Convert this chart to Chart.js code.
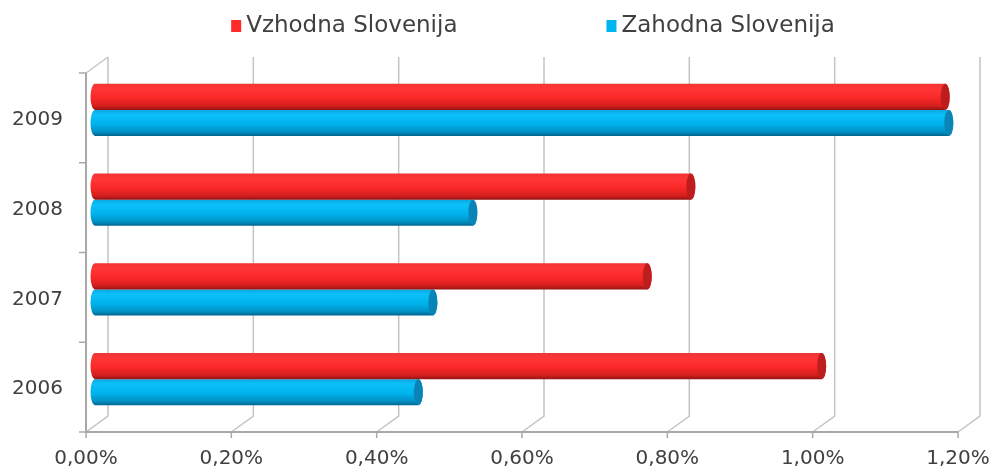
<!DOCTYPE html>
<html>
<head>
<meta charset="utf-8">
<title>Vzhodna in Zahodna Slovenija</title>
<script src="https://cdn.jsdelivr.net/npm/chart.js@4.4.1/dist/chart.umd.min.js"></script>
<style>
    html, body { margin: 0; padding: 0; background: #fff; }
    #wrap { width: 991px; height: 471px; }
</style>
</head>
<body>
<div id="wrap"><canvas id="myChart" width="991" height="471"></canvas></div>
<script>

/**
 * Data
 */

var years = ['2009', '2008', '2007', '2006'];
var vzhodna = [1.17, 0.82, 0.76, 1.00];
var zahodna = [1.175, 0.52, 0.465, 0.445];
var seriesNames = ['Vzhodna Slovenija', 'Zahodna Slovenija'];
var xTickValues = [0, 0.2, 0.4, 0.6, 0.8, 1.0, 1.2];
var xTickLabels = ['0,00%', '0,20%', '0,40%', '0,60%', '0,80%', '1,00%', '1,20%'];

/**
 * Look
 */

var FONT = '"DejaVu Sans", sans-serif';
var TEXT = '#404040';

// legend colours + cylinder shading (top -> bottom)
var seriesColors = ['#ff2a2a', '#00b4f0'];
var shades = [
    ['#f03434', '#ff3636', '#fa2828', '#d41f1f', '#961313'],
    ['#0aa8e0', '#0cc0fa', '#00b2ec', '#0090c4', '#00668e']
];
var capColors = ['#be1d1d', '#0a84b6'];

// 3d offsets
var depthX = 22, depthY = -16;   // back wall
var barDX = 9, barDY = -8;       // bars sit inside the box
var capRX = 4.5;

/**
 * 3D frame: back wall, floor, front axes
 */

var framePlugin = {
    id: 'frame3d',
    beforeDatasetsDraw: function (chart) {
        var c = chart.ctx;
        var area = chart.chartArea;
        var xs = chart.scales.x;
        var backTop = area.top + depthY;
        var backBottom = area.bottom + depthY;

        c.save();

        // back wall gridlines + floor diagonals
        c.strokeStyle = '#c4c4c4';
        c.lineWidth = 1.5;
        xTickValues.forEach(function (v) {
            var px = xs.getPixelForValue(v);
            c.beginPath();
            c.moveTo(px + depthX, backTop);
            c.lineTo(px + depthX, backBottom);
            c.lineTo(px, area.bottom);
            c.stroke();
        });

        // left wall top edge
        c.beginPath();
        c.moveTo(area.left, area.top);
        c.lineTo(area.left + depthX, backTop);
        c.stroke();

        // front axes
        c.strokeStyle = '#a8a8a8';
        c.lineWidth = 2;
        c.beginPath();
        c.moveTo(area.left, area.top);
        c.lineTo(area.left, area.bottom);
        c.lineTo(area.right, area.bottom);
        c.stroke();

        // tick marks
        c.lineWidth = 1.5;
        xTickValues.forEach(function (v) {
            var px = xs.getPixelForValue(v);
            c.beginPath();
            c.moveTo(px, area.bottom);
            c.lineTo(px, area.bottom + 6);
            c.stroke();
        });
        var band = (area.bottom - area.top) / years.length;
        for (var i = 0; i <= years.length; i++) {
            var py = area.top + band * i;
            c.beginPath();
            c.moveTo(area.left - 7, py);
            c.lineTo(area.left, py);
            c.stroke();
        }

        c.restore();
    }
};

/**
 * Cylinders drawn on the library's bar elements
 */

var cylinderPlugin = {
    id: 'cylinders',
    afterDatasetsDraw: function (chart) {
        var c = chart.ctx;
        c.save();
        [1, 0].forEach(function (di) {
            var meta = chart.getDatasetMeta(di);
            meta.data.forEach(function (el) {
                var x0 = el.base + barDX;
                var x1 = el.x + barDX;
                var yc = el.y + barDY;
                var r = el.height / 2;

                var g = c.createLinearGradient(0, yc - r, 0, yc + r);
                var s = shades[di];
                g.addColorStop(0, s[0]);
                g.addColorStop(0.2, s[1]);
                g.addColorStop(0.55, s[2]);
                g.addColorStop(0.85, s[3]);
                g.addColorStop(1, s[4]);

                c.beginPath();
                c.moveTo(x0, yc - r);
                c.lineTo(x1, yc - r);
                c.ellipse(x1, yc, capRX, r, 0, -Math.PI / 2, Math.PI / 2);
                c.lineTo(x0, yc + r);
                c.ellipse(x0, yc, capRX, r, 0, Math.PI / 2, Math.PI * 1.5);
                c.closePath();
                c.fillStyle = g;
                c.fill();

                // end cap
                c.beginPath();
                c.ellipse(x1, yc, capRX, r, 0, 0, Math.PI * 2);
                c.fillStyle = capColors[di];
                c.fill();
            });
        });
        c.restore();
    }
};

/**
 * Legend
 */

var legendPlugin = {
    id: 'topLegend',
    afterDraw: function (chart) {
        var c = chart.ctx;
        var area = chart.chartArea;
        var box = 10, gapText = 5, gapItems = 149;
        c.save();
        c.font = '23px ' + FONT;
        c.textBaseline = 'middle';
        var widths = seriesNames.map(function (n) { return c.measureText(n).width; });
        var total = box + gapText + widths[0] + gapItems + box + gapText + widths[1];
        var x = (area.left + area.right + depthX) / 2 - total / 2;
        var y = 26;
        seriesNames.forEach(function (name, i) {
            c.fillStyle = seriesColors[i];
            c.fillRect(x, y - 6, box, 12);
            c.fillStyle = TEXT;
            c.fillText(name, x + box + gapText, y);
            x += box + gapText + widths[i] + gapItems;
        });
        c.restore();
    }
};

/**
 * Chart.js
 */

var ctx = document.getElementById('myChart').getContext('2d');
var chart = new Chart(ctx, {
    type: 'bar',
    data: {
        labels: years,
        datasets: [{
            label: seriesNames[0],
            data: vzhodna,
            backgroundColor: 'rgba(0,0,0,0)'
        }, {
            label: seriesNames[1],
            data: zahodna,
            backgroundColor: 'rgba(0,0,0,0)'
        }]
    },
    options: {
        indexAxis: 'y',
        responsive: false,
        animation: false,
        categoryPercentage: 0.58,
        barPercentage: 1,
        layout: {
            padding: {top: 73, right: 0, bottom: 0, left: 0}
        },
        plugins: {
            legend: {display: false},
            tooltip: {enabled: false}
        },
        scales: {
            x: {
                min: 0,
                max: 1.2,
                grid: {display: false, drawTicks: false},
                border: {display: false},
                afterBuildTicks: function (scale) {
                    scale.ticks = xTickValues.map(function (v) { return {value: v}; });
                },
                afterFit: function (scale) {
                    scale.height = 39;
                    scale.paddingLeft = 0;
                    scale.paddingRight = 33;
                },
                ticks: {
                    padding: 15,
                    color: TEXT,
                    font: {family: FONT, size: 20},
                    maxRotation: 0,
                    callback: function (value, index) {
                        return xTickLabels[index];
                    }
                }
            },
            y: {
                grid: {display: false, drawTicks: false},
                border: {display: false},
                afterFit: function (scale) {
                    scale.width = 86;
                },
                ticks: {
                    padding: 23,
                    labelOffset: 2,
                    color: TEXT,
                    font: {family: FONT, size: 20}
                }
            }
        }
    },
    plugins: [framePlugin, cylinderPlugin, legendPlugin]
});

</script>
</body>
</html>
